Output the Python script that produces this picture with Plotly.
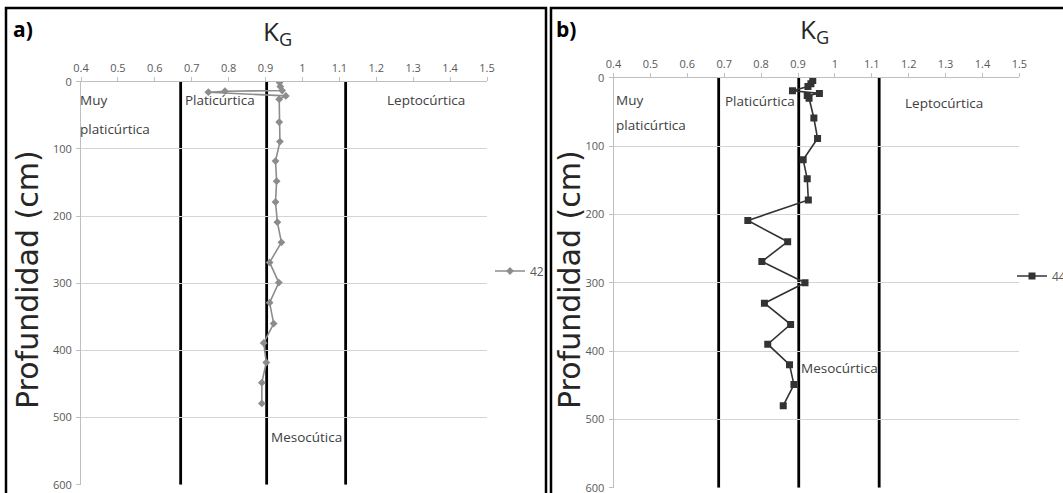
import plotly.graph_objects as go

W, H = 1063, 493

# ---- data ----
depth_a = [1, 7, 13, 14, 15.5, 21, 26, 60, 89, 118, 148, 179, 209, 239, 269, 299, 329, 360, 389, 418, 448, 479]
kg_a = [0.938, 0.94, 0.945, 0.79, 0.745, 0.955, 0.937, 0.937, 0.939, 0.927, 0.93, 0.927, 0.932, 0.943,
        0.911, 0.936, 0.911, 0.922, 0.895, 0.902, 0.89, 0.89]
depth_b = [4, 9, 13, 19, 23, 26, 30, 59, 89, 120, 148, 179, 209, 240, 269, 300, 330, 361, 390, 420, 449, 480]
kg_b = [0.94, 0.935, 0.927, 0.885, 0.958, 0.925, 0.93, 0.943, 0.953, 0.914, 0.925, 0.928, 0.764, 0.872,
        0.802, 0.919, 0.809, 0.88, 0.818, 0.877, 0.889, 0.86]
bounds_a = [0.67, 0.903, 1.117]
bounds_b = [0.685, 0.902, 1.12]
x_ticks = [0.4, 0.5, 0.6, 0.7, 0.8, 0.9, 1.0, 1.1, 1.2, 1.3, 1.4, 1.5]
x_ticktext = ["0.4", "0.5", "0.6", "0.7", "0.8", "0.9", "1", "1.1", "1.2", "1.3", "1.4", "1.5"]
y_ticks = [0, 100, 200, 300, 400, 500, 600]
series_names = ["42", "44"]


def px(x):
    return x / W


def py(y):
    return 1 - y / H


FONT = "Open Sans"
TICKC = "#595959"
TEXTC = "#404040"

fig = go.Figure()

fig.add_trace(go.Scatter(
    x=kg_a, y=depth_a, mode="lines+markers", name=series_names[0],
    line=dict(color="#8c8c8c", width=1.6),
    marker=dict(symbol="diamond", size=6, color="#8c8c8c"),
    xaxis="x", yaxis="y", legend="legend", showlegend=True))
fig.add_trace(go.Scatter(
    x=kg_b, y=depth_b, mode="lines+markers", name=series_names[1],
    line=dict(color="#333333", width=1.6),
    marker=dict(symbol="square", size=7, color="#333333"),
    xaxis="x2", yaxis="y2", legend="legend2", showlegend=True))

# classification boundaries
for b in bounds_a:
    fig.add_shape(type="line", xref="x", yref="y", x0=b, x1=b, y0=0, y1=600,
                  line=dict(color="black", width=2.8), layer="below")
for b in bounds_b:
    fig.add_shape(type="line", xref="x2", yref="y2", x0=b, x1=b, y0=0, y1=600,
                  line=dict(color="black", width=2.8), layer="below")

# panel borders
fig.add_shape(type="rect", xref="paper", yref="paper", x0=px(6), x1=px(546), y0=py(8), y1=py(497),
              line=dict(color="black", width=2.5))
fig.add_shape(type="rect", xref="paper", yref="paper", x0=px(551), x1=px(1067), y0=py(8), y1=py(497),
              line=dict(color="black", width=2.5))

axis_common = dict(
    tickfont=dict(family=FONT, size=11, color=TICKC),
    showline=True, linecolor="#bfbfbf", linewidth=1,
    ticks="outside", ticklen=4, tickcolor="#bfbfbf",
    zeroline=False, ticklabeloverflow="allow",
)

xa = dict(axis_common, range=[0.4, 1.5], tickvals=x_ticks, ticktext=x_ticktext, side="top",
          showgrid=False)
ya = dict(axis_common, range=[600, 0], tickvals=y_ticks, showgrid=True, gridcolor="#d4d4d4",
          gridwidth=1, ticklabelstandoff=2)

fig.update_layout(
    width=W, height=H, margin=dict(l=0, r=0, t=0, b=0, autoexpand=False),
    paper_bgcolor="white", plot_bgcolor="white", showlegend=True,
    xaxis=dict(xa, domain=[px(81), px(487)], anchor="y"),
    yaxis=dict(ya, domain=[py(484.7), py(81.8)], anchor="x"),
    xaxis2=dict(xa, domain=[px(613.5), px(1019.4)], anchor="y2"),
    yaxis2=dict(ya, domain=[py(487.7), py(77.7)], anchor="x2"),
    legend=dict(x=px(490), y=py(271), xanchor="left", yanchor="middle",
                font=dict(family=FONT, size=12, color=TICKC), bgcolor="rgba(0,0,0,0)",
                itemwidth=30),
    legend2=dict(x=px(1012), y=py(276), xanchor="left", yanchor="middle",
                 font=dict(family=FONT, size=12, color=TICKC), bgcolor="rgba(0,0,0,0)",
                 itemwidth=30),
)

anns = []


def ann(text, x, y, size=13.5, color=TEXTC, xanchor="left", yanchor="middle", family=FONT, **kw):
    anns.append(dict(text=text, x=px(x), y=py(y), xref="paper", yref="paper",
                     xanchor=xanchor, yanchor=yanchor, showarrow=False,
                     font=dict(family=family, size=size, color=color), **kw))


# panel labels and titles
ann("<b>a)</b>", 11, 29, size=21, color="black")
ann("<b>b)</b>", 554, 29, size=21, color="black")
ann("K<sub>G</sub>", 277, 32, size=26, color="#262626", xanchor="center")
ann("K<sub>G</sub>", 814, 30, size=26, color="#262626", xanchor="center")
ann("Profundidad (cm)", 27, 280, size=30, color="#262626", xanchor="center", textangle=-90,
    family="DejaVu Sans")
ann("Profundidad (cm)", 569, 280, size=30, color="#262626", xanchor="center", textangle=-90,
    family="DejaVu Sans")

# region labels panel a
ann("Muy", 78, 100)
ann("platicúrtica", 78, 129)
ann("Platicúrtica", 183, 100)
ann("Leptocúrtica", 385, 100)
ann("Mesocútica", 269, 437)
# region labels panel b
ann("Muy", 614, 100)
ann("platicúrtica", 614, 125)
ann("Platicúrtica", 723, 101)
ann("Leptocúrtica", 903, 103)
ann("Mesocúrtica", 799, 368)

fig.update_layout(annotations=anns)

fig.write_html("out.html")
